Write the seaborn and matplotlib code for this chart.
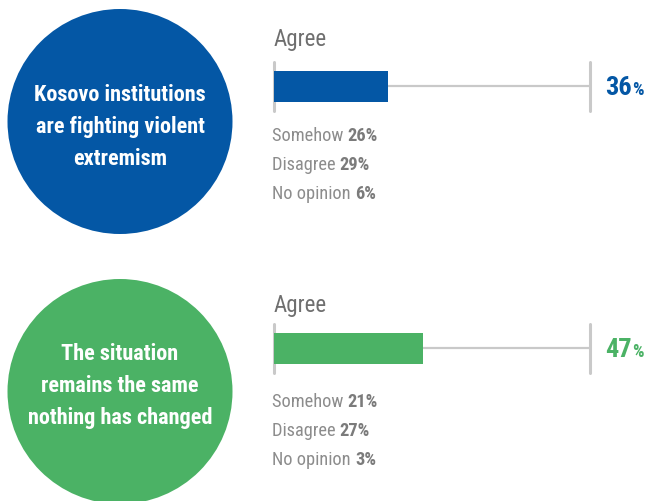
import matplotlib
matplotlib.use("Agg")
import matplotlib.pyplot as plt
from matplotlib.patches import Circle
import seaborn as sns
import pandas as pd

# Survey statements and their answer shares (%)
statements = [
    "Kosovo institutions\nare fighting violent\nextremism",
    "The situation\nremains the same\nnothing has changed",
]
agree = [36, 47]
somehow = [26, 21]
disagree = [29, 27]
no_opinion = [6, 3]
answer_labels = ["Somehow", "Disagree", "No opinion"]
panel_colors = ["#0457A5", "#4BB265"]

sns.set_theme(style="white")
plt.rcParams["font.family"] = ["Roboto Condensed", "Liberation Sans Narrow",
                               "DejaVu Sans Condensed", "Roboto", "DejaVu Sans"]
plt.rcParams["font.stretch"] = "condensed"

W, H = 648, 502
fig = plt.figure(figsize=(W / 100, H / 100), dpi=100)
fig.patch.set_facecolor("white")

# Background layer in pixel coordinates for circles and text
bg = fig.add_axes([0, 0, 1, 1])
bg.set_xlim(0, W)
bg.set_ylim(H, 0)
bg.axis("off")

renderer = fig.canvas.get_renderer()

TRACK = "#c9c9c9"
LABEL = "#8c8c8c"
VALUE = "#7b7b7b"

circle_cy = [122.5, 392.5]
circle_text_y = [127, 386]
bar_dy = [0, 262]
text_dy = [0, 266]

for i, stmt in enumerate(statements):
    color = panel_colors[i]

    # Statement bubble
    bg.add_patch(Circle((120, circle_cy[i]), 112.5, color=color, lw=0))
    bg.text(120, circle_text_y[i], stmt, color="white", fontsize=16,
            fontweight="bold", ha="center", va="center",
            linespacing=1.56)

    # "Agree" heading
    dy = text_dy[i]
    bg.text(274, 45.7 + dy, "Agree", color="#6f6f6f", fontsize=16.5,
            ha="left", va="baseline")

    # Agree bar on a 0-100 track
    by = bar_dy[i]
    top, bottom = 63 + by, 111.5 + by
    ax = fig.add_axes([274 / W, 1 - bottom / H, (590 - 274) / W,
                       (bottom - top) / H])
    df = pd.DataFrame({"answer": ["Agree"], "share": [agree[i]]})
    ax.plot([0, 100], [0, 0], color=TRACK, lw=1.6, zorder=1,
            solid_capstyle="butt")
    for x in (0, 100):
        ax.axvline(x, color=TRACK, lw=2.2, zorder=1, clip_on=False)
    sns.barplot(data=df, x="share", y="answer", orient="h", color=color,
                saturation=1, width=0.64, linewidth=0, ax=ax, zorder=2)
    ax.set_xlim(0, 100)
    ax.set_ylim(0.5, -0.5)
    ax.axis("off")

    # Big agree percentage
    t = bg.text(605, 95 + by, f"{agree[i]}", color=color, fontsize=19,
                fontweight="bold", ha="left", va="baseline")
    ext = t.get_window_extent(renderer)
    bg.text(605 + ext.width + 0.5, 95 + by, "%", color=color, fontsize=13,
            fontweight="bold", ha="left", va="baseline")

    # Remaining answers: regular label followed by bold value
    values = [somehow[i], disagree[i], no_opinion[i]]
    for j, (lab, val) in enumerate(zip(answer_labels, values)):
        y = 141 + 29 * j + dy
        tl = bg.text(272, y, lab + " ", color=LABEL, fontsize=13.2,
                     ha="left", va="baseline")
        w = tl.get_window_extent(renderer).width
        bg.text(272 + w, y, f"{val}%", color=VALUE, fontsize=13.2,
                fontweight="bold", ha="left", va="baseline")

fig.savefig("out.png", dpi=100, facecolor="white")
